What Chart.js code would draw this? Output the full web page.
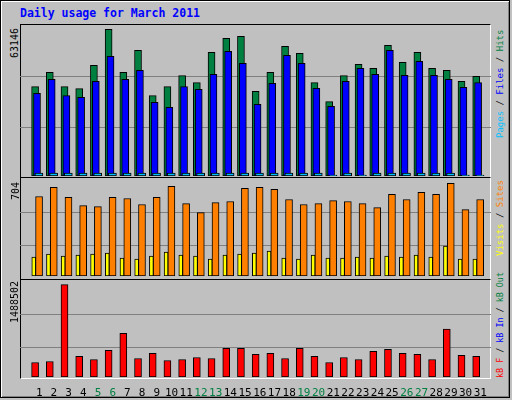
<!DOCTYPE html>
<html><head><meta charset="utf-8">
<script src="https://cdn.jsdelivr.net/npm/chart.js@4/dist/chart.umd.min.js"></script>
<style>
body{margin:0;background:#c0c0c0;}
#frame{position:absolute;left:0;top:0;width:508px;height:396px;border:1px solid #000;background:#c0c0c0;box-shadow:inset 1px 1px 0 #fff, inset -1px -1px 0 #808080;}
.panel{position:absolute;left:20px;width:471px;}
.box{position:absolute;left:20px;width:469px;border-top:1px solid #000;border-left:1px solid #000;border-right:1px solid #fff;border-bottom:1px solid #fff;}
.rl{position:absolute;white-space:nowrap;font-family:'DejaVu Sans Mono',monospace;transform:rotate(-90deg);transform-origin:left top;line-height:10px;}
#title{position:absolute;left:20px;top:6px;font:bold 11.5px 'DejaVu Sans Mono',monospace;color:#0000ff;}
</style></head><body>
<div id="frame"></div>
<div id="title">Daily usage for March 2011</div>
<div class="box" style="top:24px;height:152px"></div>
<div class="box" style="top:177px;height:101px"></div>
<div class="box" style="top:279px;height:98px"></div>
<div class="panel" style="top:25px;height:151px"><canvas id="c1"></canvas></div>
<div class="panel" style="top:179px;height:97px"><canvas id="c2"></canvas></div>
<div class="panel" style="top:281px;height:115px"><canvas id="c3"></canvas></div>
<div class="rl" style="left:10px;top:58px;font-size:10px">63146</div>
<div class="rl" style="left:11px;top:200px;font-size:10px">704</div>
<div class="rl" style="left:10px;top:323px;font-size:10px">1488502</div>
<div class="rl" style="left:495px;top:138px;font-size:9px"><span style="color:#00c0ff">Pages</span> / <span style="color:#0000ff">Files</span> / <span style="color:#008040">Hits</span></div>
<div class="rl" style="left:495px;top:256px;font-size:9px"><span style="color:#ffff00">Visits</span> / <span style="color:#ff8000">Sites</span></div>
<div class="rl" style="left:495px;top:378px;font-size:8.4px"><span style="color:#ff0000">kB F</span> / <span style="color:#0000ff">kB In</span> / <span style="color:#008040">kB Out</span></div>
<script>
const days=[1,2,3,4,5,6,7,8,9,10,11,12,13,14,15,16,17,18,19,20,21,22,23,24,25,26,27,28,29,30,31];
const weekend=[5,6,12,13,19,20,26,27];
const hits=[38458,44629,38458,37597,47642,63146,44629,54100,34584,38458,43194,40180,53239,59266,60127,36449,44629,55822,52808,40180,32000,43194,48073,46351,56252,48934,53239,46351,45490,40754,42907];
const files=[35588,41615,34584,33866,40754,51517,41615,45490,31714,29561,38458,37310,43768,53669,48503,30853,39893,51947,48503,37741,29992,40754,46351,43768,54100,43337,49364,43337,41615,38171,40180];
const pages=[1300,1300,1300,1300,1300,1300,1300,1300,1300,1300,1300,1300,1300,1300,1300,1300,1300,1300,1300,1300,400,1300,400,1300,1300,1300,1300,1300,1300,400,400];
const visits=[138,161,146,153,161,168,131,124,146,175,153,146,124,153,161,168,183,131,124,153,131,131,138,131,146,138,153,138,220,124,124];
const sites=[583,650,576,516,509,576,568,524,576,657,531,464,538,546,642,650,635,561,524,531,553,546,531,501,598,561,613,598,679,487,561];
const kbytes=[233576,249872,1488502,331352,282464,429128,706160,298760,380240,266168,282464,315056,298760,461720,461720,363944,380240,298760,461720,331352,233576,315056,282464,412832,445424,380240,363944,282464,771344,347648,331352];
const gridTop=[20960,42910], gridMid=[220,465], gridBot=[478000,1015000];

const FONT="'DejaVu Sans Mono', monospace";
function pts(arr,off){return arr.map((v,i)=>({x:days[i]+off,y:v}));}
function ds(arr,off,color,w){return {data:pts(arr,off),backgroundColor:color,borderColor:'#000',borderWidth:1,borderSkipped:false,barThickness:w,grouped:false};}
function opts(ymax,grid,showX){
  return {responsive:true,maintainAspectRatio:false,animation:false,
    layout:{padding:0},
    plugins:{legend:{display:false},tooltip:{enabled:false}},
    scales:{
      x:{type:'linear',min:0.21,max:31.21,display:showX,
        grid:{display:false},border:{display:false},
        afterBuildTicks:s=>{s.ticks=days.map(d=>({value:d}));},
        afterFit:s=>{s.height=showX?19:0;},
        ticks:{autoSkip:false,maxRotation:0,padding:2,font:{family:FONT,size:11},
          color:c=>weekend.includes(c.tick.value)?'#008040':'#000',
          callback:v=>String(v)}},
      y:{min:0,max:ymax,display:true,
        afterFit:s=>{s.width=0;},
        afterBuildTicks:s=>{s.ticks=grid.map(v=>({value:v}));},
        ticks:{display:false},border:{display:false},
        grid:{color:'#808080',lineWidth:1,drawTicks:false}}
    }};
}
new Chart(document.getElementById('c1'),{type:'bar',data:{datasets:[
  ds(pages,-0.02,'#00c0ff',8),ds(files,-0.15,'#0000ff',7),ds(hits,-0.28,'#008040',7)]},
  options:opts(65000,gridTop,false)});
new Chart(document.getElementById('c2'),{type:'bar',data:{datasets:[
  ds(sites,-0.01,'#ff8000',7),ds(visits,-0.37,'#ffff00',4)]},
  options:opts(711,gridMid,false)});
new Chart(document.getElementById('c3'),{type:'bar',data:{datasets:[
  ds(kbytes,-0.28,'#ff0000',7)]},
  options:opts(1548000,gridBot,true)});
</script></body></html>
